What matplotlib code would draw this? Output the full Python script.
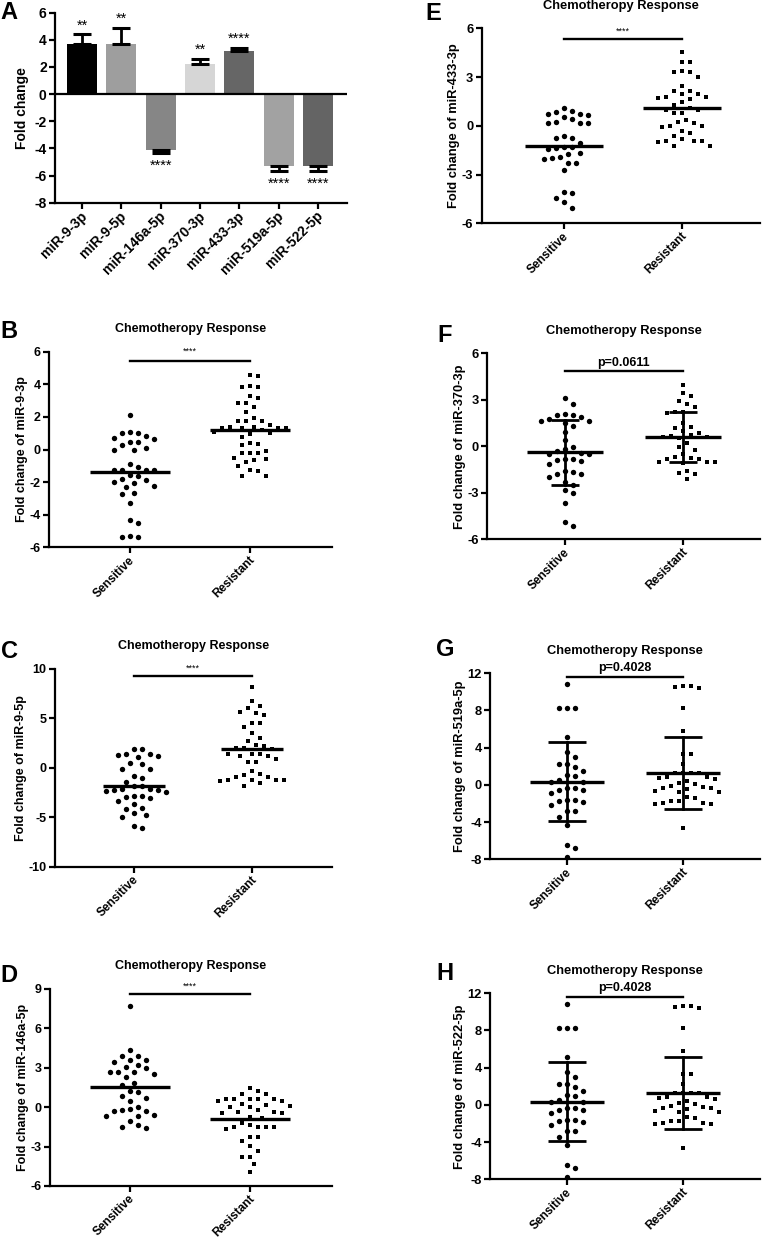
import numpy as np
import matplotlib
matplotlib.use("Agg")
import matplotlib.pyplot as plt
from matplotlib.transforms import ScaledTranslation

plt.rcParams['font.family'] = ['Liberation Sans', 'DejaVu Sans']
plt.rcParams['font.weight'] = 'bold'

# ---------------- data ----------------
A_labels = ["miR-9-3p", "miR-9-5p", "miR-146a-5p", "miR-370-3p", "miR-433-3p", "miR-519a-5p", "miR-522-5p"]
A_values = [3.7, 3.7, -4.1, 2.2, 3.2, -5.3, -5.3]
A_errors = [0.7, 1.15, 0.25, 0.4, 0.2, 0.4, 0.4]
A_stars = ["**", "**", "****", "**", "****", "****", "****"]
A_colors = ["#000000", "#9e9e9e", "#868686", "#d6d6d6", "#666666", "#a2a2a2", "#646464"]

groups = ["Sensitive", "Resistant"]

B_sens = [2.11, 1.03, 1.0, 1.05, 0.72, 0.48, 0.62, 0.8, 0.45, 0.28, 0.0, 0.0, 0.07, -0.89, -1.26, -1.27,
          -1.25, -1.28, -1.06, -1.87, -1.6, -2.04, -1.83, -1.57, -1.98, -2.28, -2.24, -2.69, -2.75, -3.26,
          -4.33, -4.49, -5.31, -5.39, -5.39]
B_res = [4.51, 4.57, 3.85, 3.81, 3.89, 3.18, 3.28, 2.83, 2.83, 2.58, 2.32, 1.77, 1.77, 1.91, 1.75, 1.5,
         1.4, 1.34, 1.3, 1.34, 1.34, 1.4, 1.19, 1.05, 1.0, 0.79, 0.93, 0.31, 0.27, 0.38, -0.07, -0.2,
         -0.24, -0.2, -0.6, -0.75, -0.5, -0.65, -1.01, -1.32, -1.26, -1.63, -1.63]
B_median = [-1.35, 1.2]

C_sens = [1.9, 1.9, 1.35, 1.21, 1.1, 1.28, 1.38, 0.34, 0.5, -0.13, -0.13, -1.0, -0.8, -1.48, -1.8, -1.85,
          -2.4, -2.2, -2.25, -2.25, -2.2, -2.45, -2.86, -2.93, -2.86, -3.33, -3.1, -3.67, -4.18, -4.07,
          -4.55, -4.78, -4.95, -6.13, -5.9]
C_res = [8.18, 6.77, 6.23, 6.0, 5.62, 5.29, 5.49, 4.55, 4.48, 4.14, 3.47, 3.0, 2.73, 2.0, 2.3, 2.2, 2.0,
         1.9, 1.38, 1.18, 1.38, 1.38, 1.21, 0.6, 0.6, 0.87, -0.3, -0.9, -0.9, -0.67, -0.74, -1.25, -1.35,
         -1.25, -1.25, -1.25, -1.85, -1.5]
C_median = [-1.8, 1.85]

D_sens = [7.68, 4.34, 3.88, 3.9, 2.94, 2.64, 2.51, 2.26, 2.64, 2.69, 3.02, 3.55, 3.45, 3.22, 3.55, 1.68,
          1.86, 1.12, 1.2, 0.84, 0.66, 0.49, 0.0, -0.22, -0.27, -0.27, -0.17, -0.6, -0.68, -0.68, -1.03,
          -1.36, -1.6, -1.54]
D_res = [1.48, 1.22, 0.97, 0.97, 0.46, 0.6, 0.6, 0.6, 0.6, 0.65, 0.46, 0.16, 0.03, 0.03, 0.08, 0.2,
         -0.35, -0.42, -0.22, -0.42, -0.35, -0.75, -0.8, -1.24, -1.49, -1.54, -1.49, -1.54, -1.69, -1.36,
         -2.25, -2.25, -2.55, -2.93, -3.34, -3.77, -3.77, -4.33, -4.91]
D_median = [1.52, -0.88]

E_sens = [0.91, 0.52, 0.73, 0.67, 0.71, 0.83, 1.08, 0.4, 0.22, 0.15, 0.15, 0.15, -0.77, -0.6, -0.77,
          -1.28, -1.38, -1.08, -1.28, -1.45, -1.69, -1.75, -1.94, -2.06, -2.0, -2.27, -2.27, -2.72,
          -4.15, -4.09, -4.46, -4.67, -5.04]
E_res = [4.56, 3.9, 3.9, 3.39, 3.33, 3.33, 3.03, 2.47, 2.16, 2.16, 1.96, 1.75, 1.45, 1.69, 1.65, 1.75,
         1.96, 1.28, 0.97, 1.08, 0.97, 0.77, 0.81, 0.36, 0.22, -0.01, -0.01, 0.15, -0.05, -0.46, -0.32,
         -0.63, -0.83, -0.91, -0.97, -1.22, -1.22, -0.91, -0.91]
E_median = [-1.22, 1.1]

F_sens = [3.14, 2.71, 2.02, 2.09, 2.02, 1.91, 1.63, 1.76, 1.53, 1.63, 1.31, 0.95, 0.41, -0.02, -0.3,
          -0.52, -0.41, -0.52, -0.19, -0.84, -0.88, -0.95, -0.84, -1.16, -1.68, -1.81, -1.96, -1.81,
          -1.59, -2.28, -2.5, -2.82, -3.03, -3.68, -5.14, -4.9]
F_res = [3.96, 3.42, 3.25, 2.73, 2.92, 2.56, 2.24, 2.19, 2.13, 1.53, 0.99, 0.84, 1.27, 1.16, 0.73, 0.52,
         0.62, 0.58, 0.65, 0.19, -0.24, -0.02, -0.67, -0.84, -0.99, -0.52, -0.99, -0.84, -0.77, -0.99,
         -1.1, -1.7, -1.59, -1.78, -2.13]
F_mean = [-0.38, 0.6]
F_sd = [2.1, 1.63]

G_sens = [10.85, 8.31, 8.31, 8.31, 5.19, 3.58, 3.04, 2.25, 1.96, 2.25, 1.53, 1.07, 1.0, 0.53, 0.35, 0.35,
          -0.37, -0.54, -0.83, -0.54, -0.37, -1.62, -1.8, -1.69, -1.62, -2.16, -2.77, -2.77, -3.41, -4.3,
          -6.46, -6.82, -7.78]
G_res = [10.67, 10.57, 10.46, 10.67, 8.31, 5.84, 3.33, 3.33, 2.25, 1.32, 1.32, 1.32, 1.32, 0.71, 0.46,
         0.1, 0.82, 0.24, 0.64, 0.82, -0.08, -0.37, -0.72, -0.72, -0.37, -0.62, -0.44, -0.19, -1.33, -1.73,
         -1.9, -2.05, -2.05, -1.9, -1.73, -1.44, -4.67]
G_mean = [0.35, 1.25]
G_sd = [4.23, 3.87]

H_sens = list(G_sens)
H_res = list(G_res)
H_mean = list(G_mean)
H_sd = list(G_sd)

# ---------------- layout helpers ----------------
W, H = 762, 1238
fig = plt.figure(figsize=(W / 100, H / 100), dpi=100)


def add_axes_px(l, r, t, b):
    return fig.add_axes([l / W, 1 - b / H, (r - l) / W, (b - t) / H])


def style_axes(ax, tick_fs):
    for s in ["top", "right"]:
        ax.spines[s].set_visible(False)
    for s in ["left", "bottom"]:
        ax.spines[s].set_linewidth(1.6)
    ax.tick_params(axis="both", direction="out", length=4, width=1.6, labelsize=tick_fs, pad=2)


def swarm_x(ax, xc, vals, diam=8.0, step=4.0):
    vals = np.asarray(vals, float)
    pts = ax.transData.transform(np.column_stack([np.full(len(vals), xc), vals]))
    ypx = pts[:, 1]
    x0 = pts[0, 0]
    order = np.argsort(-ypx)
    placed = []
    offs = np.zeros(len(vals))
    cand = [0]
    for k in range(1, 30):
        cand += [k, -k]
    for i in order:
        for k in cand:
            xo = k * step
            ok = True
            for (px, py) in placed:
                if (xo - px) ** 2 + (ypx[i] - py) ** 2 < diam ** 2:
                    ok = False
                    break
            if ok:
                break
        placed.append((xo, ypx[i]))
        offs[i] = xo
    inv = ax.transData.inverted()
    return inv.transform(np.column_stack([x0 + offs, ypx]))[:, 0]


def panel_letter(px, py, letter):
    fig.text(px / W, 1 - py / H, letter, fontsize=17, fontweight="bold", ha="center", va="center",
             family=["Liberation Sans Narrow", "Liberation Sans", "DejaVu Sans"])


def scatter_panel(box, xlim, ylim, yticks, sens, res, ylabel, fs, sig_y, sig_text, sig_text_y,
                  sig_fs, sig_bold, line_vals, line_half, sd=None, cap_half=0.12):
    ax = add_axes_px(*box)
    ax.set_xlim(*xlim)
    ax.set_ylim(*ylim)
    style_axes(ax, fs)
    ax.set_yticks(yticks)
    ax.set_yticklabels([str(v) for v in yticks], fontweight="bold", fontsize=fs)
    ax.set_xticks([0, 1])
    ax.set_xticklabels(groups, rotation=45, ha="right", va="center", rotation_mode="anchor",
                       fontweight="bold", fontsize=8.6)
    off = ScaledTranslation(2.2 / 72, -2.0 / 72, fig.dpi_scale_trans)
    for lab in ax.get_xticklabels():
        lab.set_transform(lab.get_transform() + off)
    ax.set_ylabel(ylabel, fontweight="bold", fontsize=fs, labelpad=1)
    ax.set_title("Chemotheropy Response", fontweight="bold", fontsize=fs, pad=14)
    fig.canvas.draw()
    for xc, vals, mk in [(0, sens, "o"), (1, res, "s")]:
        xs = swarm_x(ax, xc, vals)
        ax.scatter(xs, vals, marker=mk, s=15 if mk == "o" else 12, color="black", linewidths=0,
                   zorder=3, clip_on=False)
    for xc, v in zip([0, 1], line_vals):
        ax.plot([xc - line_half, xc + line_half], [v, v], color="black", lw=2.4, zorder=4,
                solid_capstyle="butt")
    if sd is not None:
        for xc, m, s in zip([0, 1], line_vals, sd):
            ax.plot([xc, xc], [m - s, m + s], color="black", lw=2.0, zorder=4)
            for yy in (m - s, m + s):
                ax.plot([xc - cap_half, xc + cap_half], [yy, yy], color="black", lw=2.0, zorder=4,
                        solid_capstyle="butt")
    ax.plot([0, 1], [sig_y, sig_y], color="black", lw=1.7, clip_on=False)
    ax.text(0.5, sig_text_y, sig_text, ha="center", va="center", fontsize=sig_fs,
            fontweight="bold" if sig_bold else "normal", clip_on=False)
    return ax


# ---------------- panel A ----------------
axA = add_axes_px(55, 347, 12.7, 202.7)
xA = np.arange(len(A_labels))
lower = [e if v < 0 else 0 for v, e in zip(A_values, A_errors)]
upper = [e if v > 0 else 0 for v, e in zip(A_values, A_errors)]
axA.bar(xA, A_values, width=0.76, color=A_colors, zorder=2)
axA.errorbar(xA, A_values, yerr=[lower, upper], fmt="none", ecolor="black", elinewidth=2.0,
             capsize=6.5, capthick=2.2, zorder=3)
axA.axhline(0, color="black", lw=1.6, zorder=4)
axA.set_xlim(-0.69, 6.74)
axA.set_ylim(-8, 6)
style_axes(axA, 10)
axA.set_yticks(range(-8, 7, 2))
axA.set_yticklabels([str(v) for v in range(-8, 7, 2)], fontweight="bold", fontsize=10)
axA.set_xticks(xA)
axA.set_xticklabels(A_labels, rotation=45, ha="right", va="center", rotation_mode="anchor",
                    fontweight="bold", fontsize=10)
offA = ScaledTranslation(2 / 72, -2 / 72, fig.dpi_scale_trans)
for lab in axA.get_xticklabels():
    lab.set_transform(lab.get_transform() + offA)
axA.set_ylabel("Fold change", fontweight="bold", fontsize=10, labelpad=4)
for x, v, e, st in zip(xA, A_values, A_errors, A_stars):
    end = v + e if v > 0 else v - e
    axA.annotate(st, (x, end), xytext=(0, 1.5 if v > 0 else -14), textcoords="offset points",
                 ha="center", va="bottom", fontsize=10.5, fontweight="normal")

# ---------------- panels B-H ----------------
scatter_panel((49, 332, 351.7, 547.3), (-0.675, 1.683), (-6, 6), [-6, -4, -2, 0, 2, 4, 6],
              B_sens, B_res, "Fold change of miR-9-3p", 9, 5.43, "****", 6.0, 6.5, False,
              B_median, 0.333)
scatter_panel((55, 332, 668.7, 866.7), (-0.669, 1.678), (-10, 10), [-10, -5, 0, 5, 10],
              C_sens, C_res, "Fold change of miR-9-5p", 9, 9.29, "****", 10.05, 6.5, False,
              C_median, 0.26)
scatter_panel((50, 332, 988.7, 1186), (-0.667, 1.683), (-6, 9), [-6, -3, 0, 3, 6, 9],
              D_sens, D_res, "Fold change of miR-146a-5p", 9, 8.57, "****", 9.15, 6.5, False,
              D_median, 0.333)
scatter_panel((481.7, 760, 28.3, 223.3), (-0.697, 1.66), (-6, 6), [-6, -3, 0, 3, 6],
              E_sens, E_res, "Fold change of miR-433-3p", 9.3, 5.32, "****", 5.8, 6.5, False,
              E_median, 0.33)
scatter_panel((487, 760, 353.3, 539.3), (-0.661, 1.653), (-6, 6), [-6, -3, 0, 3, 6],
              F_sens, F_res, "Fold change of miR-370-3p", 9.3, 4.84, "p=0.0611", 5.4, 9, True,
              F_mean, 0.325, sd=F_sd, cap_half=0.12)
scatter_panel((490, 760, 673.3, 859.3), (-0.664, 1.664), (-8, 12), [-8, -4, 0, 4, 8, 12],
              G_sens, G_res, "Fold change of miR-519a-5p", 9.3, 11.64, "p=0.4028", 12.55, 9, True,
              G_mean, 0.32, sd=G_sd, cap_half=0.16)
scatter_panel((490, 760, 993.3, 1179.3), (-0.664, 1.664), (-8, 12), [-8, -4, 0, 4, 8, 12],
              H_sens, H_res, "Fold change of miR-522-5p", 9.3, 11.64, "p=0.4028", 12.55, 9, True,
              H_mean, 0.32, sd=H_sd, cap_half=0.16)

for px, py, L in [(9, 12.5, "A"), (9, 331, "B"), (9, 651, "C"), (9, 975, "D"),
                  (433, 14, "E"), (445, 335, "F"), (445, 649, "G"), (445, 973, "H")]:
    panel_letter(px, py, L)

fig.savefig("out.png", dpi=100)
